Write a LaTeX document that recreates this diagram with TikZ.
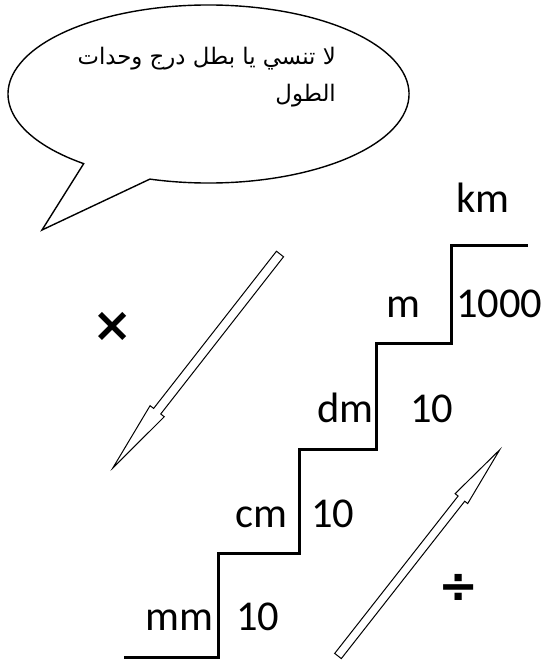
\documentclass[tikz,border=0pt]{standalone}
\usepackage{fontspec}
\TeXXeTstate=1
\newfontfamily\arabicfont[Script=Arabic]{DejaVu Sans}
\newfontfamily\labfont{Carlito}
\newfontfamily\symfont{DejaVu Sans}
\begin{document}
\begin{tikzpicture}[x=1pt,y=1pt,
  lab/.style={inner sep=0pt,anchor=base west,font=\labfont\fontsize{42.5}{50}\selectfont},
  stair/.style={line width=3pt,line cap=rect},
  bubble/.style={line width=1.4pt,fill=white,line join=miter},
  blockarrow/.style={line width=1pt,fill=white,line join=miter}]
\useasboundingbox (0,0) rectangle (543,-661);
% speech bubble
\draw[bubble] (208.5,-94) ++(253:200.5pt and 89pt)
  arc[start angle=253,end angle=591.5,x radius=200.5pt,y radius=89pt]
  -- (42,-230) -- cycle;
\node[inner sep=0pt,anchor=north east,align=right,
  font=\arabicfont\fontsize{22.8}{37}\selectfont] (msg) at (336,-47)
  {\beginR لا تنسي يا بطل درج وحدات\endR\\ \beginR الطول\endR};
% staircase
\draw[stair] (125,-657) -- (218,-657) -- (218,-553) -- (299,-553) -- (299,-449)
  -- (376,-449) -- (376,-343) -- (451,-343) -- (451,-245) -- (526,-245);
% labels
\node[lab] (km) at (456,-212) {km};
\node[lab] (m) at (386,-317) {m};
\node[lab] (n1000) at (456,-317) {1000};
\node[lab] (dm) at (317,-422) {dm};
\node[lab] (n10a) at (410,-422) {10};
\node[lab] (cm) at (235,-527) {cm};
\node[lab] (n10b) at (311,-527) {10};
\node[lab] (mm) at (145,-630) {mm};
\node[lab] (n10c) at (236,-630) {10};
% operators
\node[inner sep=0pt,font=\symfont\bfseries\fontsize{48}{48}\selectfont] (times) at (113,-327) {×};
\node[inner sep=0pt,font=\symfont\bfseries\fontsize{48}{48}\selectfont] (div) at (459,-588) {÷};
% block arrows
\begin{scope}[shift={(280,-254)},rotate=232]
\draw[blockarrow] (0,-4.5) -- (199.5,-4.5) -- (199.5,-9) -- (271.5,0) -- (199.5,9)
  -- (199.5,4.5) -- (0,4.5) -- cycle;
\end{scope}
\begin{scope}[shift={(338,-656)},rotate=51.9]
\draw[blockarrow] (0,-4.2) -- (200,-4.2) -- (200,-8) -- (262,0) -- (200,8)
  -- (200,4.2) -- (0,4.2) -- cycle;
\end{scope}
\end{tikzpicture}
\end{document}
